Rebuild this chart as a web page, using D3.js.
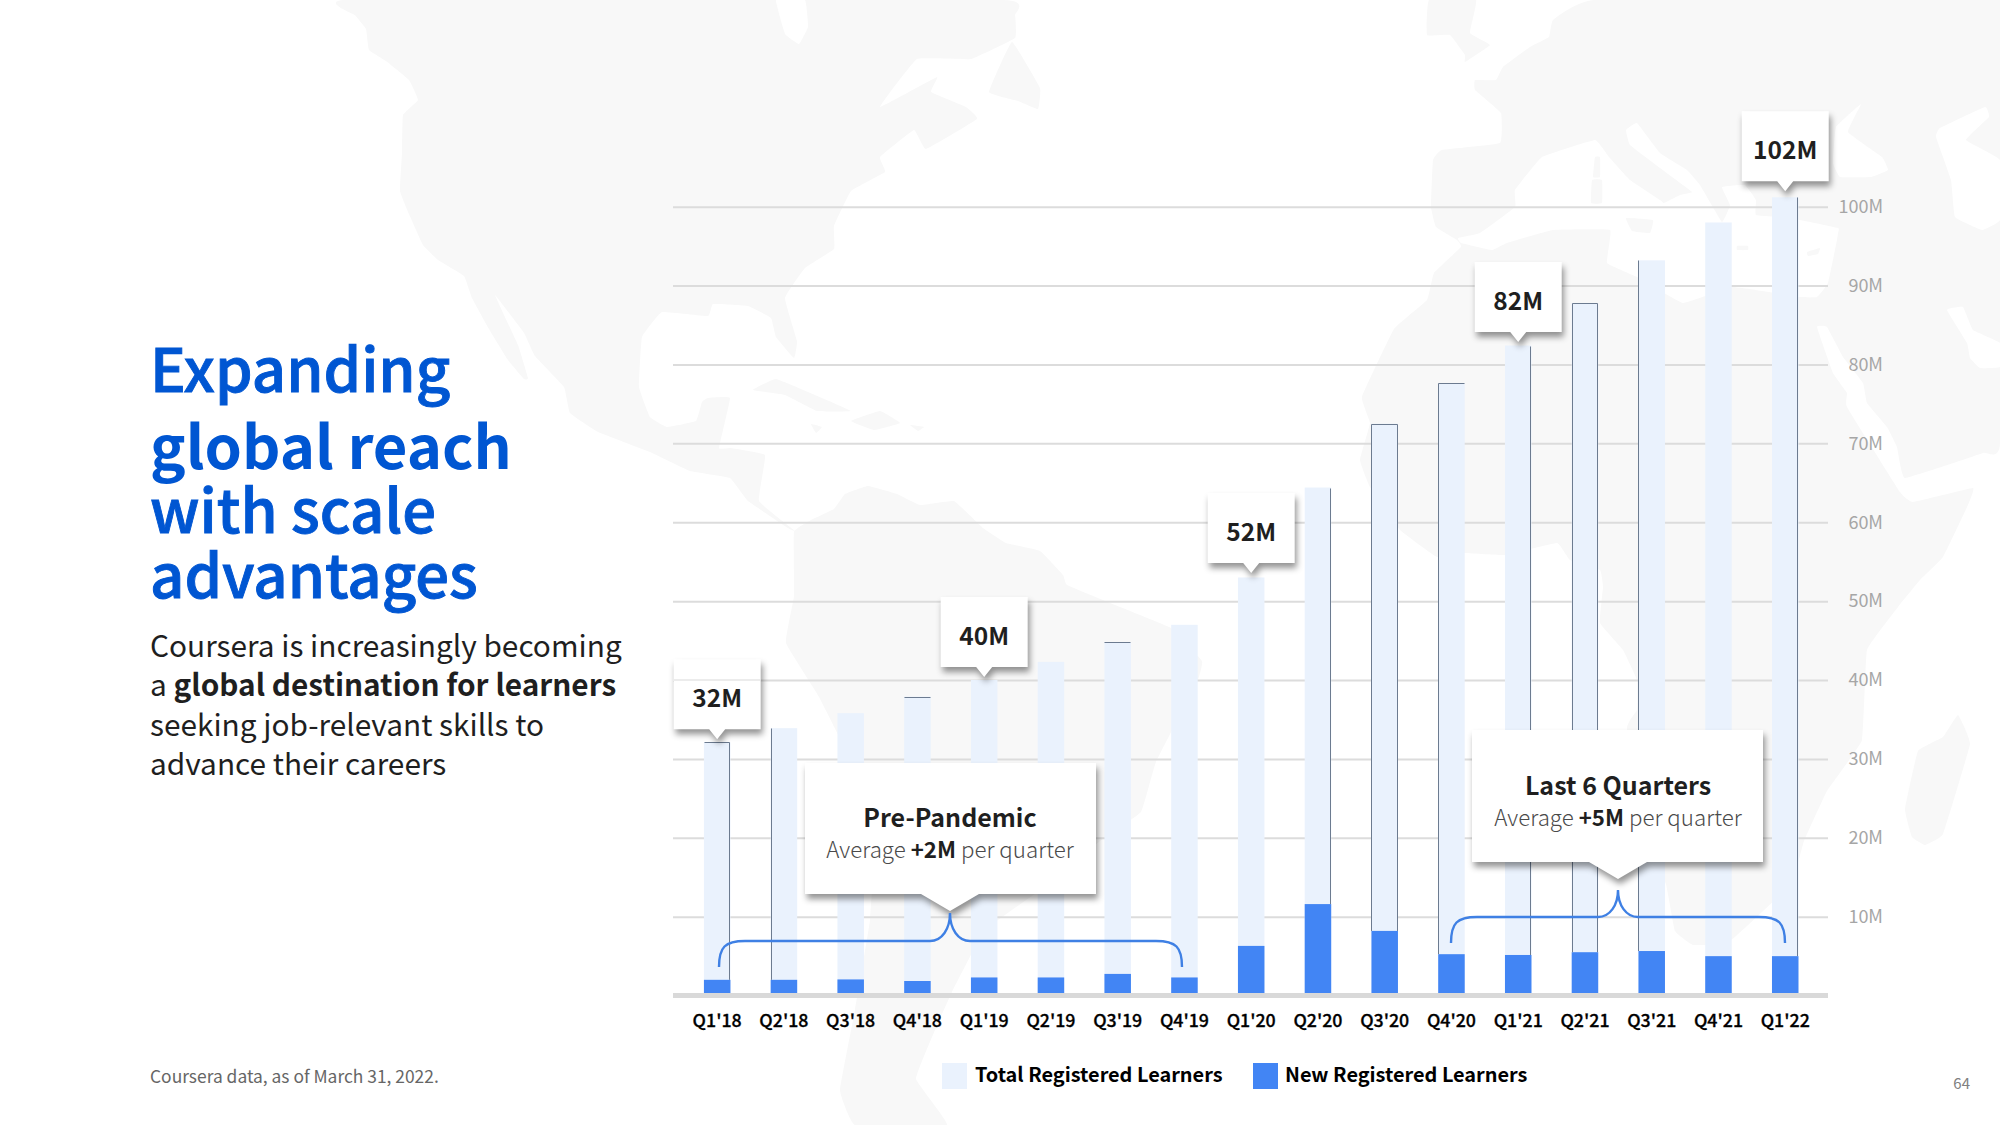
<!DOCTYPE html>
<html><head><meta charset="utf-8">
<script src="https://cdnjs.cloudflare.com/ajax/libs/d3/7.8.5/d3.min.js"></script>
<style>
html,body{margin:0;padding:0;background:#fff}
svg{display:block}
text{font-family:"Noto Sans CJK SC","Noto Sans",sans-serif}
</style></head><body>
<svg id="c" width="2000" height="1125"></svg>
<script>
const quarters=["Q1'18","Q2'18","Q3'18","Q4'18","Q1'19","Q2'19","Q3'19","Q4'19","Q1'20","Q2'20","Q3'20","Q4'20","Q1'21","Q2'21","Q3'21","Q4'21","Q1'22"];
const totalLearners=[32.1,33.9,35.8,37.9,40,42.3,44.8,47,53,64.4,72.5,77.6,82.4,87.8,93.2,98,101.2];
const newLearners=[2,2,2.05,1.85,2.3,2.3,2.75,2.3,6.3,11.6,8.2,5.25,5.15,5.5,5.65,5,5];
const yTicks=[10,20,30,40,50,60,70,80,90,100];
const calloutQuarters=["Q1'18","Q1'19","Q1'20","Q1'21","Q1'22"];
const calloutLabels=["32M","40M","52M","82M","102M"];
const calloutGaps=[3,3,4.5,3.5,6];
const barEdges=["tr","l","","t","","","t","","","r","tlr","tl","r","tlr","l","","r"];
const seriesNames=["Total Registered Learners","New Registered Learners"];

const landColor="#f8f8f8", waterColor="#ffffff";
const land=[
 // North America
 [[346,0],[355,15],[366,29],[369,50],[386,61],[409,80],[418,100],[403,115],[402,153],[400,191],[409,214],[423,245],[438,260],[464,276],[472,298],[489,329],[508,360],[524,379],[528,378],[518,345],[495,295],[524,333],[535,356],[564,387],[570,413],[598,432],[650,452],[690,471],[730,478],[748,501],[788,528],[795,531],[759,501],[765,455],[730,448],[719,448],[730,398],[708,398],[702,402],[696,421],[667,427],[650,417],[639,387],[642,337],[662,312],[708,316],[713,304],[748,306],[771,318],[776,337],[794,358],[797,341],[785,298],[805,268],[834,249],[834,226],[851,191],[885,172],[880,157],[914,130],[926,149],[977,119],[966,107],[931,92],[937,77],[880,107],[917,59],[971,59],[1015,38],[1015,15],[1003,0]],
 // Newfoundland, Cuba, Hispaniola, Jamaica, Puerto Rico
 [[989,92],[1012,42],[1040,88],[1038,109],[1018,101]],
 [[753,390],[776,379],[815,395],[851,411],[817,411],[785,395]],
 [[851,421],[880,411],[900,423],[874,430]],
 [[811,424],[822,427],[816,433]],
 [[910,425],[924,427],[918,431]],
 // South America
 [[794,532],[811,520],[834,509],[845,494],[868,486],[897,494],[920,505],[954,501],[983,528],[1006,543],[1040,551],[1063,575],[1067,585],[1110,603],[1171,628],[1202,661],[1197,682],[1156,762],[1141,812],[1100,841],[1049,884],[985,930],[952,992],[935,1030],[916,1079],[947,1125],[855,1125],[840,1090],[855,1010],[870,920],[875,812],[819,697],[786,643],[794,596]],
 // Europe, Asia and Africa outline
 [[1595,0],[1553,20],[1549,37],[1530,47],[1503,67],[1496,80],[1475,80],[1475,90],[1501,113],[1500,143],[1442,150],[1433,160],[1431,207],[1436,227],[1457,240],[1461,247],[1434,273],[1427,300],[1394,329],[1362,397],[1370,423],[1360,460],[1370,487],[1400,530],[1437,557],[1463,553],[1505,555],[1557,543],[1570,560],[1600,570],[1603,587],[1600,623],[1623,650],[1637,680],[1637,710],[1627,730],[1666,884],[1675,931],[1693,945],[1729,942],[1791,884],[1804,841],[1827,791],[1862,740],[1867,650],[1898,607],[1920,580],[1943,557],[1967,507],[1973,488],[1913,502],[1900,492],[1847,407],[1847,393],[1833,373],[1817,327],[1827,327],[1843,357],[1863,383],[1867,403],[1887,427],[1897,447],[1905,478],[1983,453],[2000,443],[2000,0]],
 // Great Britain
 [[1429,0],[1476,0],[1470,33],[1490,45],[1465,62],[1465,55],[1450,35],[1427,35]],
 // Madagascar
 [[1958,715],[1970,744],[1943,834],[1925,845],[1912,837],[1905,809],[1918,751],[1943,737]]
];
const water=[
 [[776,0],[785,34],[799,44],[808,27],[805,0]],                 // Hudson Bay
 [[1861,104],[1836,127],[1833,163],[1840,177],[1871,177],[1888,170],[1882,157],[1848,132]], // Black Sea
 [[1985,107],[1940,128],[1936,137],[1951,180],[1955,217],[1982,230],[2000,220],[2000,160],[1966,140],[1989,117]], // Caspian
 [[1947,310],[1963,307],[1973,330],[2000,343],[2000,367],[1980,368],[1970,358],[1967,343]], // Persian Gulf
 // Mediterranean
 [[1458,238],[1480,233],[1515,207],[1515,190],[1542,157],[1595,140],[1609,157],[1630,180],[1660,200],[1664,203],[1680,195],[1692,192],[1660,168],[1630,145],[1626,130],[1637,123],[1660,153],[1687,170],[1700,185],[1722,222],[1730,205],[1722,187],[1745,185],[1756,200],[1756,215],[1790,218],[1838,228],[1838,233],[1837,240],[1828,283],[1817,297],[1800,297],[1733,287],[1683,303],[1637,277],[1607,263],[1610,230],[1553,230],[1507,243],[1492,250],[1461,243]]
];
const islands=[
 [[1595,157],[1600,157],[1600,177],[1593,177]],   // Corsica
 [[1592,180],[1602,180],[1602,203],[1591,203]],   // Sardinia
 [[1626,218],[1653,220],[1650,233],[1632,231]],   // Sicily
 [[1737,246],[1748,246],[1748,250],[1737,250]],   // Crete
 [[1807,252],[1820,248],[1818,254],[1808,256]]    // Cyprus
];

const svg=d3.select("#c");
const x=d3.scaleBand().domain(quarters).range([683.8,1818.6]).paddingInner(0.603).paddingOuter(0.3015);
const y=d3.scaleLinear().domain([0,100]).range([995.6,206.7]);
const cx=q=>x(q)+x.bandwidth()/2;

// background map
const poly=d3.line().curve(d3.curveCardinalClosed.tension(0.75));
const mapG=svg.append("g");
mapG.selectAll("path.l").data(land).join("path").attr("class","l").attr("d",poly).attr("fill",landColor);
mapG.selectAll("path.w").data(water).join("path").attr("class","w").attr("d",poly).attr("fill",waterColor);
mapG.selectAll("path.i").data(islands).join("path").attr("class","i").attr("d",poly).attr("fill",landColor);

// value axis with gridlines
const yAxis=svg.append("g").attr("transform","translate(1828,0)")
 .call(d3.axisRight(y).tickValues(yTicks).tickSize(-1155).tickPadding(0).tickFormat(d=>d+"M"));
yAxis.select(".domain").remove();
yAxis.selectAll("line").attr("stroke","#dcdcdc").attr("stroke-width",2);
yAxis.selectAll("text").attr("x",55).attr("text-anchor","end").attr("fill","#a6a6a6")
 .attr("font-size",18).style("font-family",'"Noto Sans CJK SC"');

// bars
svg.append("g").selectAll("rect").data(quarters).join("rect")
 .attr("x",d=>x(d)).attr("width",x.bandwidth())
 .attr("y",(d,i)=>y(totalLearners[i])).attr("height",(d,i)=>y(0)-y(totalLearners[i]))
 .attr("fill","#eaf2fd");
svg.append("g").selectAll("rect").data(quarters).join("rect")
 .attr("x",d=>x(d)).attr("width",x.bandwidth())
 .attr("y",(d,i)=>y(newLearners[i])).attr("height",(d,i)=>y(0)-y(newLearners[i]))
 .attr("fill","#4285f4");
// hairline bar edges
const edgeG=svg.append("g").attr("stroke","#6c7b90").attr("stroke-width",1).attr("fill","none");
quarters.forEach((q,i)=>{
 const l=Math.round(x(q))+.5,r=Math.round(x(q)+x.bandwidth())-.5,t=Math.round(y(totalLearners[i]))+.5,b=y(newLearners[i]);
 const e=barEdges[i];
 if(e.includes("t"))edgeG.append("line").attr("x1",l).attr("x2",r).attr("y1",t).attr("y2",t);
 if(e.includes("l"))edgeG.append("line").attr("x1",l).attr("x2",l).attr("y1",t).attr("y2",b);
 if(e.includes("r"))edgeG.append("line").attr("x1",r).attr("x2",r).attr("y1",t).attr("y2",b);
});

// baseline and category axis
const xAxis=svg.append("g").attr("transform","translate(0,995.5)")
 .call(d3.axisBottom(x).tickSize(0).tickPadding(19));
xAxis.select(".domain").remove();
xAxis.selectAll("text").attr("fill","#000").attr("font-size",17.8).attr("font-weight",500)
 .attr("stroke","#000").attr("stroke-width",0.3).style("font-family",'"Noto Sans CJK SC"');
svg.append("line").attr("x1",673).attr("x2",1828).attr("y1",y(0)).attr("y2",y(0)).attr("stroke","#d9d9d9").attr("stroke-width",5);

// callouts
const shadow="drop-shadow(2px 5px 3px rgba(0,0,0,.42))";
function bubble(g,l,r,t,b,cxp,hw,tipY){
 const p=d3.path();
 p.moveTo(l,t);p.lineTo(r,t);p.lineTo(r,b);p.lineTo(cxp+hw,b);p.lineTo(cxp,tipY);p.lineTo(cxp-hw,b);p.lineTo(l,b);p.closePath();
 g.append("path").attr("d",p.toString()).attr("fill","#fff").style("filter",shadow);
}
const cG=svg.append("g");
calloutQuarters.forEach((q,k)=>{
 const i=quarters.indexOf(q),c=cx(q),tip=y(totalLearners[i])-calloutGaps[k];
 bubble(cG,c-43.5,c+43.5,tip-80,tip-10,c,8,tip);
 cG.append("text").attr("x",c).attr("y",tip-41).attr("dy","0.36em").attr("text-anchor","middle")
  .attr("font-size",24.5).attr("font-weight",700).attr("fill","#1f1f1f").text(calloutLabels[k]);
});
// 40M gridline shows faintly through the first callout
svg.append("line").attr("x1",673).attr("x2",760).attr("y1",y(40)).attr("y2",y(40)).attr("stroke","#ececec").attr("stroke-width",2);

function bigCallout(l,r,t,b,c,tipY,head,pre,bold,post,hy,sy){
 bubble(cG,l,r,t,b,c,29,tipY);
 cG.append("text").attr("x",c).attr("y",hy).attr("dy","0.36em").attr("text-anchor","middle").attr("font-size",25)
  .attr("font-weight",700).attr("fill","#1f1f1f").text(head);
 const s=cG.append("text").attr("x",c).attr("y",sy).attr("dy","0.36em").attr("text-anchor","middle").attr("font-size",22.3)
  .attr("font-weight",300).attr("fill","#4a4a4a");
 s.append("tspan").text(pre);
 s.append("tspan").attr("font-weight",700).attr("fill","#1f1f1f").text(bold);
 s.append("tspan").text(post);
}
bigCallout(805,1096,763,894,950,911,"Pre-Pandemic","Average ","+2M"," per quarter",818,850);
bigCallout(1472,1763,730,862,1618,879,"Last 6 Quarters","Average ","+5M"," per quarter",786,818);

// braces
function brace(x0,x1,xm,yEnd,yBar,yTip){
 const p=d3.path(),rr=yEnd-yBar;
 p.moveTo(x0,yEnd);p.bezierCurveTo(x0,yBar+6,x0+6,yBar,x0+rr,yBar);
 p.lineTo(xm-20,yBar);p.bezierCurveTo(xm-8,yBar,xm,yBar-12,xm,yTip);
 p.bezierCurveTo(xm,yBar-12,xm+8,yBar,xm+20,yBar);
 p.lineTo(x1-rr,yBar);p.bezierCurveTo(x1-6,yBar,x1,yBar+6,x1,yEnd);
 svg.append("path").attr("d",p.toString()).attr("fill","none").attr("stroke","#3f80e4").attr("stroke-width",2.4);
}
brace(719,1182,950,967,941,913);
brace(1451,1785,1618,943,917,890);

// legend
svg.append("rect").attr("x",942).attr("y",1063).attr("width",25).attr("height",26).attr("fill","#eaf2fd");
svg.append("rect").attr("x",1253).attr("y",1063).attr("width",25).attr("height",26).attr("fill","#4285f4");
svg.selectAll("text.leg").data(seriesNames).join("text").attr("class","leg")
 .attr("x",(d,i)=>[975,1285][i]).attr("y",1075).attr("dy","0.36em")
 .attr("font-size",19.9).attr("font-weight",700).attr("fill","#000").text(d=>d);

// left copy
const titleLines=[["Expanding",0.9,392],["global reach",0,469],["with scale",0.9,533],["advantages",0.9,598]];
svg.selectAll("text.t").data(titleLines).join("text").attr("class","t")
 .attr("x",150).attr("y",d=>d[2]).attr("font-size",59.8).attr("font-weight",d=>d[1]?500:700)
 .attr("fill","#0056d2").attr("stroke","#0056d2").attr("stroke-width",d=>d[1]).text(d=>d[0]);
const bodyLines=[["Coursera is increasingly becoming",657],["a ",696],["seeking job-relevant skills to",736],["advance their careers",775]];
const bt=svg.selectAll("text.b").data(bodyLines).join("text").attr("class","b")
 .attr("x",150).attr("y",d=>d[1]).attr("font-size",29.8).attr("fill","#1f1f1f").text(d=>d[0]);
d3.select(bt.nodes()[1]).append("tspan").attr("font-weight",700).text("global destination for learners");
svg.append("text").attr("x",150).attr("y",1077).attr("dy","0.36em").attr("font-size",17.4).attr("fill","#666").text("Coursera data, as of March 31, 2022.");
svg.append("text").attr("x",1970).attr("y",1084).attr("dy","0.36em").attr("text-anchor","end").attr("font-size",15).attr("fill","#808080").text("64");
</script></body></html>
